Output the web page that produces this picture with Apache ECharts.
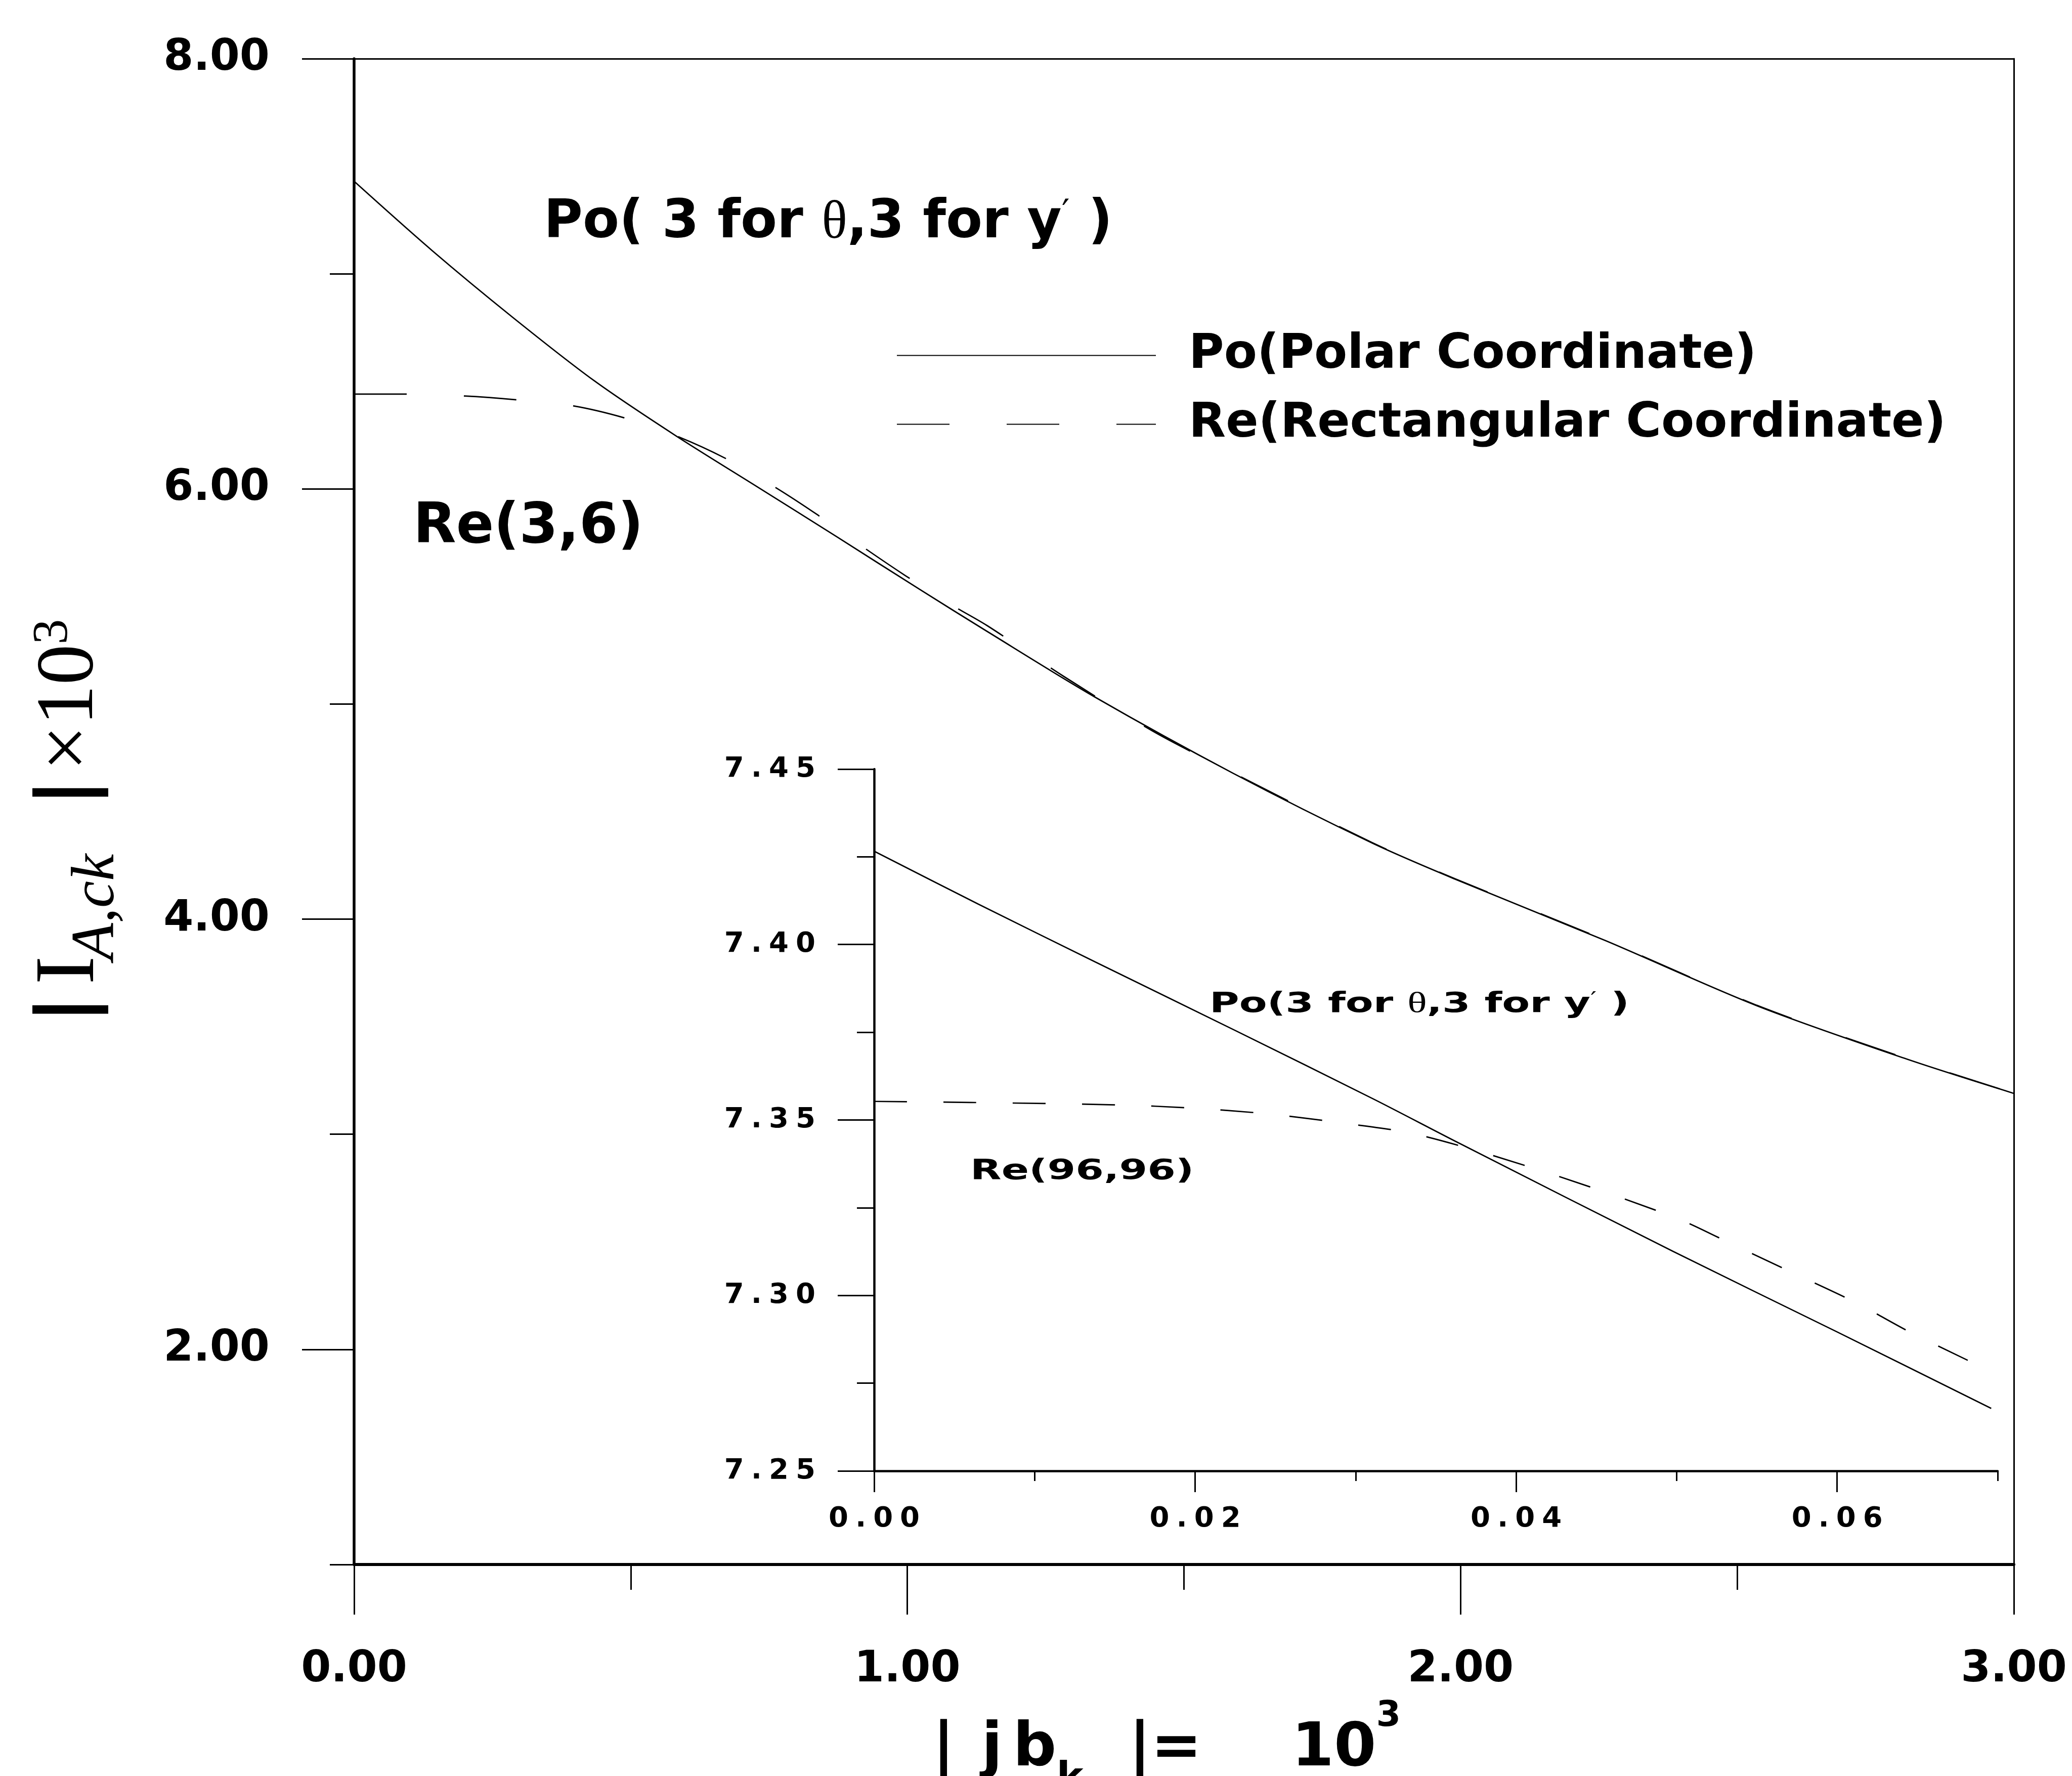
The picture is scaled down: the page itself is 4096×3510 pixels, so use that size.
<!DOCTYPE html>
<html>
<head>
<meta charset="utf-8">
<style>
  html, body { margin: 0; padding: 0; background: #fff; }
  #chart { width: 4096px; height: 3510px; }
</style>
<script src="https://cdn.jsdelivr.net/npm/echarts@6/dist/echarts.min.js"></script>
</head>
<body>
<div id="chart"></div>
<script>
(function () {
  'use strict';

  // main plot: |jb_k| (x 10^3) against |I_A,ck| (x 10^3)
  var poX = [0, 0.141, 0.287, 0.434, 0.581, 0.728, 0.874, 1.021, 1.144, 1.338, 1.589, 1.840, 1.990, 2.262, 2.535, 2.807, 3.0];
  var poY = [7.43, 7.108, 6.797, 6.503, 6.248, 6.011, 5.775, 5.535, 5.338, 5.034, 4.678, 4.354, 4.186, 3.900, 3.598, 3.349, 3.19];
  var reX = [0, 0.095, 0.2, 0.295, 0.396, 0.493, 0.581, 0.669, 0.761, 0.838, 0.921, 0.997, 1.079, 1.144, 1.283, 1.445, 1.589, 1.840, 1.990, 2.262, 2.535, 2.807, 3.0];
  var reY = [6.441, 6.441, 6.432, 6.414, 6.386, 6.327, 6.248, 6.145, 6.008, 5.879, 5.728, 5.596, 5.462, 5.365, 5.128, 4.872, 4.680, 4.356, 4.188, 3.902, 3.600, 3.351, 3.19];

  // inset: Po(3,3) against Re(96,96) close to zero
  var insetPoX = [0, 0.0065, 0.0138, 0.0225, 0.0311, 0.0364, 0.0498, 0.06, 0.0696];
  var insetPoY = [7.4266, 7.4115, 7.3950, 7.3755, 7.3560, 7.3435, 7.3125, 7.2896, 7.2678];
  var insetReX = [0, 0.006, 0.0152, 0.0198, 0.0244, 0.0289, 0.0339, 0.0418, 0.0499, 0.0536, 0.0574, 0.0611, 0.0646, 0.0681, 0.0689];
  var insetReY = [7.3553, 7.355, 7.3543, 7.3534, 7.3518, 7.3493, 7.3458, 7.3352, 7.3222, 7.3143, 7.3061, 7.2981, 7.2894, 7.2816, 7.2797];

  var mainXTicks = [0, 1, 2, 3];
  var mainXMinor = [0.5, 1.5, 2.5];
  var mainYTicks = [2, 4, 6, 8];
  var mainYMinor = [1, 3, 5, 7];
  var insetXTicks = [0, 0.02, 0.04, 0.06];
  var insetXMinor = [0.01, 0.03, 0.05, 0.07];
  var insetYTicks = [7.25, 7.30, 7.35, 7.40, 7.45];
  var insetYMinor = [7.275, 7.325, 7.375, 7.425];

  var legendNames = ['Po(Polar Coordinate)', 'Re(Rectangular Coordinate)'];

  var SANS = 'DejaVu Sans';
  var SERIF = 'Liberation Serif';
  var INK = '#000';

  function pairs(xs, ys) {
    return xs.map(function (x, i) { return [x, ys[i]]; });
  }

  function fixed2(v) {
    return Number(v).toFixed(2);
  }

  // the inset labels are drawn in a wide face, spread the digits out
  function spaced2(v) {
    return Number(v).toFixed(2).split('').join('\u2005');
  }

  function hiddenAxis(extra) {
    var base = {
      type: 'value',
      axisLine: { show: false },
      axisTick: { show: false },
      axisLabel: { show: false },
      splitLine: { show: false }
    };
    return Object.assign(base, extra);
  }

  function tickAxis(gridIndex, position, min, max, values, len) {
    return hiddenAxis({
      gridIndex: gridIndex, position: position, min: min, max: max,
      axisTick: { show: true, customValues: values, length: len, lineStyle: { color: INK, width: 3 } }
    });
  }

  // rich token helper, left aligned inside its own box
  function tok(family, size, lh, extra) {
    var s = { fontFamily: family, fontSize: size, color: INK, align: 'left' };
    if (lh) s.lineHeight = lh;
    return Object.assign(s, extra || {});
  }

  var chart = echarts.init(document.getElementById('chart'), null, { renderer: 'canvas' });

  var xName = '{bar||}{j|j}{b|b}{sub|k}{c||=}{d|10}{sup|3}';
  var yName = '{bar||}{i|I}{sub|A,ck}{bar2||}{t|×10}{sup|3}';
  var B = { fontWeight: 'bold' };

  chart.setOption({
    animation: false,
    backgroundColor: '#fff',
    grid: [
      { left: 700, top: 116, width: 3281, height: 2976, outerBoundsMode: 'none', containLabel: false },
      { left: 1728, top: 1520, width: 2221, height: 1387, outerBoundsMode: 'none', containLabel: false }
    ],
    legend: {
      data: legendNames,
      orient: 'vertical',
      left: 1767,
      top: 650,
      itemWidth: 512,
      itemHeight: 100,
      itemGap: 41,
      selectedMode: false,
      itemStyle: { opacity: 0 },
      textStyle: { fontFamily: SANS, fontWeight: 'bold', fontSize: 95, color: INK, padding: [0, 0, 0, 60] }
    },
    xAxis: [
      {
        type: 'value', gridIndex: 0, position: 'bottom', min: 0, max: 3,
        axisLine: { onZero: false, lineStyle: { color: INK, width: 6 } },
        axisTick: { customValues: mainXTicks, length: 99, lineStyle: { color: INK, width: 3 } },
        axisLabel: {
          customValues: mainXTicks, formatter: fixed2, margin: 166,
          fontFamily: SANS, fontWeight: 'bold', fontSize: 85, color: INK
        },
        splitLine: { show: false },
        name: xName,
        nameLocation: 'middle',
        nameGap: 266,
        nameTextStyle: {
          color: INK,
          rich: {
            bar: tok(SANS, 120, 200, Object.assign({ width: 97 }, B)),
            j: tok(SANS, 120, 200, Object.assign({ width: 62 }, B)),
            b: tok(SANS, 120, 200, B),
            sub: tok(SANS, 80, 6, Object.assign({ width: 143, verticalAlign: 'bottom' }, B)),
            c: tok(SANS, 120, 200, Object.assign({ width: 322 }, B)),
            d: tok(SANS, 120, 200, B),
            sup: tok(SANS, 70, 84, Object.assign({ width: 117, verticalAlign: 'top' }, B))
          }
        }
      },
      tickAxis(0, 'bottom', 0, 3, mainXMinor, 50),
      hiddenAxis({ gridIndex: 0, position: 'top', min: 0, max: 3, axisLine: { show: true, onZero: false, lineStyle: { color: INK, width: 3 } } }),
      {
        type: 'value', gridIndex: 1, position: 'bottom', min: 0, max: 0.07,
        axisLine: { onZero: false, lineStyle: { color: INK, width: 4.5 } },
        axisTick: { customValues: insetXTicks, length: 42, lineStyle: { color: INK, width: 3 } },
        axisLabel: {
          customValues: insetXTicks, formatter: spaced2, margin: 67,
          fontFamily: SANS, fontWeight: 'bold', fontSize: 56, color: INK
        },
        splitLine: { show: false }
      },
      tickAxis(1, 'bottom', 0, 0.07, insetXMinor, 20)
    ],
    yAxis: [
      {
        type: 'value', gridIndex: 0, position: 'left', min: 1, max: 8,
        axisLine: { onZero: false, lineStyle: { color: INK, width: 5.5 } },
        axisTick: { customValues: mainYTicks, length: 103, lineStyle: { color: INK, width: 3 } },
        axisLabel: {
          customValues: mainYTicks, formatter: fixed2, margin: 167,
          fontFamily: SANS, fontWeight: 'bold', fontSize: 85, color: INK
        },
        splitLine: { show: false },
        name: yName,
        nameLocation: 'middle',
        nameRotate: 90,
        nameGap: 465,
        nameTextStyle: {
          color: INK,
          rich: {
            bar: tok(SANS, 150, 190, Object.assign({ width: 77 }, B)),
            i: tok(SERIF, 168, 190, { width: 48 }),
            sub: tok(SERIF, 120, 0, { fontStyle: 'italic', width: 304, height: 86, verticalAlign: 'bottom' }),
            bar2: tok(SANS, 150, 190, Object.assign({ width: 70 }, B)),
            t: tok(SERIF, 160, 190),
            sup: tok(SERIF, 100, 0, { width: 88, height: 122, verticalAlign: 'top' })
          }
        }
      },
      tickAxis(0, 'left', 1, 8, mainYMinor, 48),
      hiddenAxis({ gridIndex: 0, position: 'right', min: 1, max: 8, axisLine: { show: true, onZero: false, lineStyle: { color: INK, width: 3 } } }),
      {
        type: 'value', gridIndex: 1, position: 'left', min: 7.25, max: 7.45,
        axisLine: { onZero: false, lineStyle: { color: INK, width: 4.5 } },
        axisTick: { customValues: insetYTicks, length: 72, lineStyle: { color: INK, width: 3 } },
        axisLabel: {
          customValues: insetYTicks, formatter: spaced2, margin: 116,
          fontFamily: SANS, fontWeight: 'bold', fontSize: 56, color: INK
        },
        splitLine: { show: false }
      },
      tickAxis(1, 'left', 7.25, 7.45, insetYMinor, 34)
    ],
    series: [
      {
        name: legendNames[0], type: 'line', xAxisIndex: 0, yAxisIndex: 0,
        data: pairs(poX, poY), symbol: 'none', smooth: 0.3,
        itemStyle: { color: INK },
        lineStyle: { color: INK, width: 2.7 }
      },
      {
        name: legendNames[1], type: 'line', xAxisIndex: 0, yAxisIndex: 0,
        data: pairs(reX, reY), symbol: 'none', smooth: 0.3,
        itemStyle: { color: INK },
        lineStyle: { color: INK, width: 2.7, type: [104, 113] }
      },
      {
        name: 'Po(3 for θ,3 for y′)', type: 'line', xAxisIndex: 3, yAxisIndex: 3,
        data: pairs(insetPoX, insetPoY), symbol: 'none', smooth: 0.3,
        itemStyle: { color: INK },
        lineStyle: { color: INK, width: 2.7 }
      },
      {
        name: 'Re(96,96)', type: 'line', xAxisIndex: 3, yAxisIndex: 3,
        data: pairs(insetReX, insetReY), symbol: 'none', smooth: 0.3,
        itemStyle: { color: INK },
        lineStyle: { color: INK, width: 2.7, type: [65, 72] }
      }
    ],
    graphic: [
      {
        type: 'text', x: 1075, y: 442,
        style: {
          text: '{a|Po( 3 for }{th|θ}{a|,3 for y}{pr|′}{a| )}',
          align: 'left', verticalAlign: 'middle',
          rich: {
            a: { fontFamily: SANS, fontWeight: 'bold', fontSize: 105, fill: INK },
            th: { fontFamily: SERIF, fontSize: 105, fill: INK },
            pr: { fontFamily: SANS, fontSize: 70, fill: INK, verticalAlign: 'top' }
          }
        }
      },
      {
        type: 'text', x: 817, y: 1043,
        style: {
          text: 'Re(3,6)', align: 'left', verticalAlign: 'middle',
          fontFamily: SANS, fontWeight: 'bold', fontSize: 110, fill: INK
        }
      },
      {
        type: 'text', x: 2391, y: 1985, scaleX: 1.43,
        style: {
          text: '{a|Po(3 for }{th|θ}{a|,3 for y}{pr|′}{a| )}',
          align: 'left', verticalAlign: 'middle',
          rich: {
            a: { fontFamily: SANS, fontWeight: 'bold', fontSize: 56, fill: INK },
            th: { fontFamily: SERIF, fontSize: 56, fill: INK },
            pr: { fontFamily: SANS, fontSize: 38, fill: INK, verticalAlign: 'top' }
          }
        }
      },
      {
        type: 'text', x: 1918, y: 2315, scaleX: 1.43,
        style: {
          text: 'Re(96,96)', align: 'left', verticalAlign: 'middle',
          fontFamily: SANS, fontWeight: 'bold', fontSize: 56, fill: INK
        }
      }
    ]
  });
})();
</script>
</body>
</html>
